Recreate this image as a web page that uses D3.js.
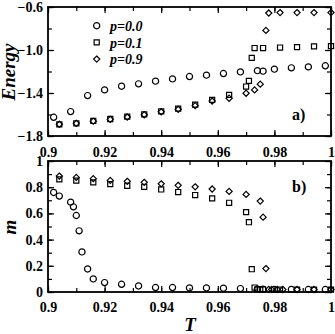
<!DOCTYPE html>
<html>
<head>
<meta charset="utf-8">
<script src="https://cdn.jsdelivr.net/npm/d3@7"></script>
<style>
  body { margin: 0; background: #fff; }
  svg { display: block; }
  text { font-family: "Liberation Serif", "Times New Roman", serif; font-weight: bold; fill: #000; }
</style>
</head>
<body>
<div id="chart"></div>
<script>
// ---- data ----
// panel a) energy
var tE0 = [0.902,0.908,0.914,0.920,0.926,0.932,0.938,0.944,0.950,0.956,0.962,0.968,0.974,0.976,0.980,0.986,0.992,0.998];
var energyP0 = [-1.626,-1.573,-1.424,-1.371,-1.337,-1.315,-1.290,-1.269,-1.247,-1.234,-1.219,-1.204,-1.192,-1.197,-1.178,-1.166,-1.157,-1.147];
var tE1 = [0.904,0.910,0.916,0.922,0.928,0.934,0.940,0.946,0.952,0.958,0.964,0.970,0.971,0.972,0.973,0.976,0.982,0.988,0.994,1.000];
var energyP1 = [-1.691,-1.682,-1.660,-1.642,-1.620,-1.598,-1.570,-1.545,-1.508,-1.464,-1.418,-1.340,-1.287,-1.073,-0.982,-0.982,-0.977,-0.973,-0.966,-0.964];
var tE9 = [0.904,0.910,0.916,0.922,0.928,0.934,0.940,0.946,0.952,0.958,0.964,0.970,0.973,0.975,0.977,0.978,0.982,0.988,0.994,1.000];
var energyP9 = [-1.691,-1.682,-1.662,-1.645,-1.624,-1.602,-1.575,-1.552,-1.518,-1.475,-1.449,-1.402,-1.371,-1.318,-0.818,-0.656,-0.652,-0.652,-0.652,-0.652];

// panel b) magnetisation
var tM0 = [0.902,0.904,0.908,0.909,0.910,0.911,0.912,0.914,0.916,0.920,0.926,0.932,0.938,0.944,0.950,0.956,0.962,0.968,0.974,0.976,0.980,0.986,0.992,0.998];
var mP0 = [0.760,0.732,0.686,0.650,0.584,0.467,0.306,0.176,0.100,0.072,0.059,0.046,0.034,0.034,0.031,0.031,0.029,0.026,0.022,0.021,0.020,0.020,0.019,0.019];
var tM1 = [0.904,0.910,0.916,0.922,0.928,0.934,0.940,0.946,0.952,0.958,0.964,0.970,0.971,0.972,0.973,0.974,0.975,0.976,0.982,0.988,0.994,1.000];
var mP1 = [0.860,0.850,0.837,0.824,0.811,0.803,0.783,0.763,0.740,0.715,0.681,0.610,0.533,0.174,0.034,0.020,0.020,0.020,0.018,0.018,0.018,0.018];
var tM9 = [0.904,0.910,0.916,0.922,0.928,0.934,0.940,0.946,0.952,0.958,0.964,0.970,0.975,0.976,0.977,0.978,0.979,0.981,0.983,0.988,0.994,1.000];
var mP9 = [0.885,0.875,0.865,0.852,0.845,0.837,0.826,0.814,0.803,0.786,0.768,0.745,0.694,0.571,0.179,0.020,0.020,0.020,0.019,0.019,0.019,0.019];

var legendLabels = ["p=0.0", "p=0.1", "p=0.9"];
var xTicks = [0.9, 0.92, 0.94, 0.96, 0.98, 1];
var energyTicks = [-0.6, -1.0, -1.4, -1.8];
var mTicks = [0, 0.2, 0.4, 0.6, 0.8, 1];

// ---- layout ----
var W = 335, H = 334;
var left = 48, right = 331;
var topA = 7, botA = 136;
var topB = 161, botB = 292;

var svg = d3.select("#chart").append("svg").attr("width", W).attr("height", H);

var x = d3.scaleLinear().domain([0.9, 1]).range([left, right]);
var yE = d3.scaleLinear().domain([-1.8, -0.6]).range([botA, topA]);
var yM = d3.scaleLinear().domain([0, 1]).range([botB, topB]);

var xMinor = d3.range(0.90, 1.0001, 0.01);

function frame(y, top, bot, majorY, minorY, fmtY) {
  // bottom, with labels
  svg.append("g").attr("transform", "translate(0," + bot + ")")
    .call(d3.axisBottom(x).tickValues(xMinor).tickSizeInner(-4).tickSizeOuter(0).tickFormat(""));
  svg.append("g").attr("transform", "translate(0," + bot + ")")
    .call(d3.axisBottom(x).tickValues(xTicks).tickSizeInner(-6).tickSizeOuter(0).tickPadding(bot === botA ? 11 : 10)
      .tickFormat(function(d) { return d === 1 ? "1" : d3.format(".2~f")(d); }));
  // top
  svg.append("g").attr("transform", "translate(0," + top + ")")
    .call(d3.axisTop(x).tickValues(xMinor).tickSizeInner(-4).tickSizeOuter(0).tickFormat(""));
  svg.append("g").attr("transform", "translate(0," + top + ")")
    .call(d3.axisTop(x).tickValues(xTicks).tickSizeInner(-6).tickSizeOuter(0).tickFormat(""));
  // left
  svg.append("g").attr("transform", "translate(" + left + ",0)")
    .call(d3.axisLeft(y).tickValues(minorY).tickSizeInner(-4).tickSizeOuter(0).tickFormat(""));
  svg.append("g").attr("transform", "translate(" + left + ",0)")
    .call(d3.axisLeft(y).tickValues(majorY).tickSizeInner(-6).tickSizeOuter(0).tickPadding(5).tickFormat(fmtY));
  // right
  svg.append("g").attr("transform", "translate(" + right + ",0)")
    .call(d3.axisRight(y).tickValues(minorY).tickSizeInner(-4).tickSizeOuter(0).tickFormat(""));
  svg.append("g").attr("transform", "translate(" + right + ",0)")
    .call(d3.axisRight(y).tickValues(majorY).tickSizeInner(-6).tickSizeOuter(0).tickFormat(""));
  svg.append("rect").attr("x", left).attr("y", top).attr("width", right - left).attr("height", bot - top)
    .attr("fill", "none").attr("stroke", "#000").attr("stroke-width", 1.8);
}

frame(yE, topA, botA, energyTicks, d3.range(-1.8, -0.59, 0.2), d3.format(".1f"));
frame(yM, topB, botB, mTicks, d3.range(0, 1.001, 0.1), function(d) { return d === 0 || d === 1 ? String(d) : d3.format(".1f")(d); });

svg.selectAll(".tick line").attr("stroke", "#000").attr("stroke-width", 1.2);
svg.selectAll(".domain").remove();
svg.selectAll(".tick text").style("font-size", "14px").style("font-family", "Liberation Serif").style("font-weight", "bold");

// ---- markers ----
var sym = [d3.symbolCircle, d3.symbolSquare, d3.symbolDiamond2];
var symSize = [30, 26, 24];

function drawSeries(ts, vals, y, k) {
  var gen = d3.symbol().type(sym[k]).size(symSize[k]);
  svg.append("g").selectAll("path").data(ts).enter().append("path")
    .attr("d", gen)
    .attr("transform", function(d, i) { return "translate(" + x(d) + "," + y(vals[i]) + ")"; })
    .attr("fill", "none").attr("stroke", "#000").attr("stroke-width", 1.2);
}

drawSeries(tE0, energyP0, yE, 0);
drawSeries(tE1, energyP1, yE, 1);
drawSeries(tE9, energyP9, yE, 2);
drawSeries(tM0, mP0, yM, 0);
drawSeries(tM1, mP1, yM, 1);
drawSeries(tM9, mP9, yM, 2);

// ---- legend ----
legendLabels.forEach(function(lab, k) {
  var ly = 25.7 + k * 16.7;
  svg.append("path").attr("d", d3.symbol().type(sym[k]).size(symSize[k])())
    .attr("transform", "translate(96.7," + ly + ")")
    .attr("fill", "none").attr("stroke", "#000").attr("stroke-width", 1.2);
  svg.append("text").attr("x", 110).attr("y", ly + 5.3)
    .style("font-size", "14px").style("font-style", "italic").text(lab);
});

// ---- labels ----
svg.append("text").attr("transform", "translate(15,72) rotate(-90)").attr("text-anchor", "middle")
  .style("font-size", "19px").style("font-style", "italic").text("Energy");
svg.append("text").attr("transform", "translate(16,227) rotate(-90)").attr("text-anchor", "middle")
  .style("font-size", "19px").style("font-style", "italic").text("m");
svg.append("text").attr("x", 190).attr("y", 331).attr("text-anchor", "middle")
  .style("font-size", "19px").style("font-style", "italic").text("T");
svg.append("text").attr("x", 292).attr("y", 120).style("font-size", "16px").text("a)");
svg.append("text").attr("x", 292).attr("y", 192).style("font-size", "16px").text("b)");
</script>
</body>
</html>
